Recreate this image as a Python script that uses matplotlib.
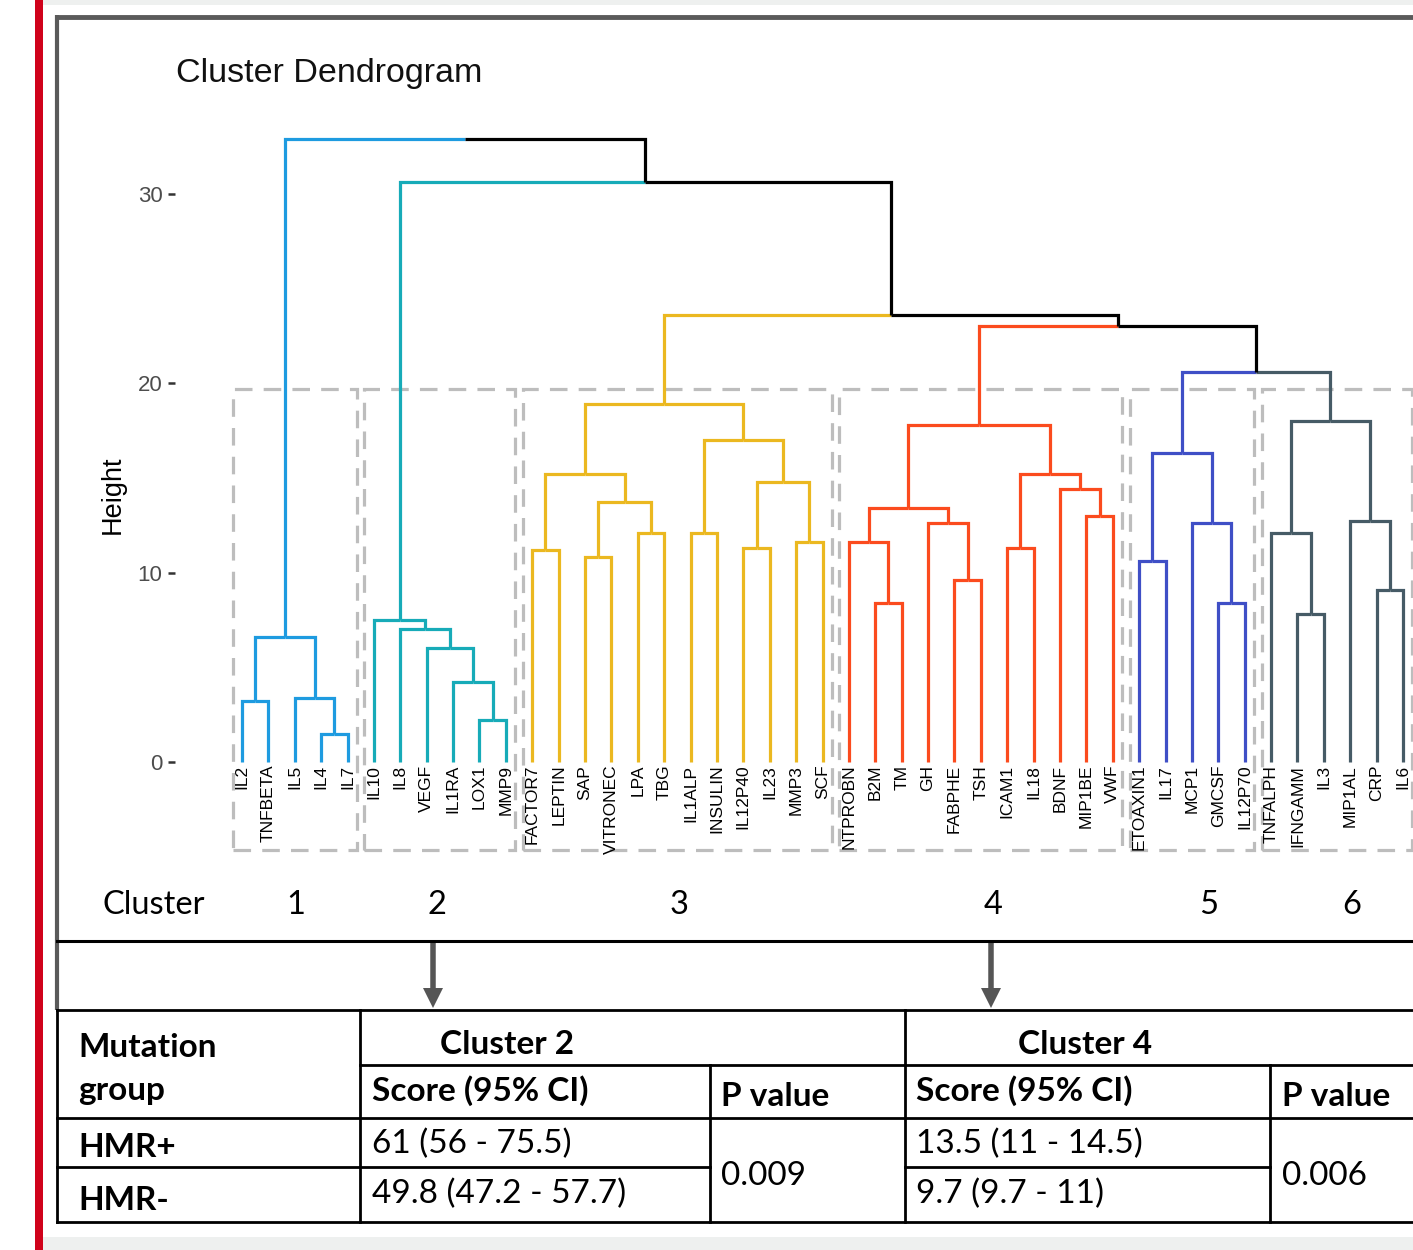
import matplotlib
matplotlib.use("Agg")
import matplotlib.pyplot as plt
from matplotlib.patches import Rectangle, FancyArrow

# ------------------------------------------------------------------ data
# Each cluster subtree: (merge height, left, right); leaves are strings.
cluster1 = (6.6, (3.2, "IL2", "TNFBETA"), (3.4, "IL5", (1.5, "IL4", "IL7")))
cluster2 = (7.5, "IL10", (7.0, "IL8", (6.0, "VEGF", (4.2, "IL1RA", (2.2, "LOX1", "MMP9")))))
cluster3 = (18.9,
            (15.2, (11.2, "FACTOR7", "LEPTIN"),
                   (13.7, (10.8, "SAP", "VITRONEC"), (12.1, "LPA", "TBG"))),
            (17.0, (12.1, "IL1ALP", "INSULIN"),
                   (14.8, (11.3, "IL12P40", "IL23"), (11.6, "MMP3", "SCF"))))
cluster4 = (17.8,
            (13.4, (11.6, "NTPROBN", (8.4, "B2M", "TM")),
                   (12.6, "GH", (9.6, "FABPHE", "TSH"))),
            (15.2, (11.3, "ICAM1", "IL18"),
                   (14.4, "BDNF", (13.0, "MIP1BE", "VWF"))))
cluster5 = (16.3, (10.6, "ETOAXIN1", "IL17"), (12.6, "MCP1", (8.4, "GMCSF", "IL12P70")))
cluster6 = (18.0, (12.1, "TNFALPH", (7.8, "IFNGAMM", "IL3")),
            (12.7, "MIP1AL", (9.1, "CRP", "IL6")))

cluster_trees = [cluster1, cluster2, cluster3, cluster4, cluster5, cluster6]
cluster_names = ["1", "2", "3", "4", "5", "6"]
cluster_colors = ["#1E9BE0", "#17ABB8", "#EBB820", "#FB4B1E", "#3F4FC6", "#465B66"]
# height at which cluster k joins the block formed by clusters k+1..6
top_merge_heights = [32.9, 30.6, 23.6, 23.0, 20.6]
rect_top_height = 19.7
y_ticks = [0, 10, 20, 30]

mutation_groups = ["HMR+", "HMR-"]
table_groups = ["Cluster 2", "Cluster 4"]
col_headers = ["Score (95% CI)", "P value"]
cluster2_scores = ["61 (56 - 75.5)", "49.8 (47.2 - 57.7)"]
cluster2_p = "0.009"
cluster4_scores = ["13.5 (11 - 14.5)", "9.7 (9.7 - 11)"]
cluster4_p = "0.006"

# ------------------------------------------------------------------ figure
W, H = 1413, 1250
fig = plt.figure(figsize=(W / 100, H / 100), dpi=100)
fig.patch.set_facecolor("white")

bg = fig.add_axes([0, 0, 1, 1], zorder=0)
bg.set_xlim(0, W)
bg.set_ylim(H, 0)
bg.axis("off")

ARIAL = ["Liberation Sans", "DejaVu Sans"]
CAL = ["Lato", "DejaVu Sans"]

# decorations
bg.add_patch(Rectangle((35, 0), 8, H, color="#D0021B", lw=0))
bg.add_patch(Rectangle((43, 0), W - 43, 5, color="#EEF0EF", lw=0))
bg.add_patch(Rectangle((43, 1237), W - 43, 13, color="#EEF0EF", lw=0))
bg.plot([55, W], [17, 17], color="#5A5A5A", lw=3.5, solid_capstyle="butt")
bg.plot([57, 57], [15, 1010], color="#5A5A5A", lw=3.0, solid_capstyle="butt")
bg.plot([57, W], [941, 941], color="black", lw=2.2)

# dendrogram axes
xmin, xmax = -2.54, 46.54
ymin, ymax = -5.70, 33.88
ax = fig.add_axes([175 / W, 1 - 870 / H, 1295 / W, 750 / H], zorder=2)
ax.patch.set_alpha(0)
ax.set_xlim(xmin, xmax)
ax.set_ylim(ymin, ymax)
for s in ax.spines.values():
    s.set_visible(False)
ax.set_xticks([])
ax.set_yticks(y_ticks)
ax.set_yticklabels([str(t) for t in y_ticks], family=ARIAL)
ax.tick_params(axis="y", length=5, width=1.8, color="#333333",
               labelsize=16, labelcolor="#4D4D4D", pad=4)
bg.text(113, 495, "Height", family=ARIAL, fontsize=19.5, color="black",
        rotation=90, ha="center", va="center")

LW = 2.3
counter = [0]


def draw_branch(xp, hp, xc, hc, color):
    ax.plot([xp, xc, xc], [hp, hp, hc], color=color, lw=LW,
            solid_joinstyle="miter", solid_capstyle="butt", zorder=3)


def layout(node, color, leaves):
    if isinstance(node, str):
        x = counter[0]
        counter[0] += 1
        leaves.append(x)
        ax.text(x, -0.15, node, rotation=90, ha="center", va="top",
                family=ARIAL, fontsize=12.5, color="black")
        return x, 0.0
    h, left, right = node
    xl, hl = layout(left, color, leaves)
    xr, hr = layout(right, color, leaves)
    x = (xl + xr) / 2
    draw_branch(x, h, xl, hl, color)
    draw_branch(x, h, xr, hr, color)
    return x, h


roots = []
for k, (tree, col) in enumerate(zip(cluster_trees, cluster_colors)):
    leaves = []
    xr, hr = layout(tree, col, leaves)
    roots.append((xr, hr))
    first, last = min(leaves), max(leaves)
    ax.add_patch(Rectangle((first - 0.36, -4.65), last - first + 0.72,
                           rect_top_height + 4.65, fill=False,
                           edgecolor="#BDBDBD", lw=2.3,
                           linestyle=(0, (5.5, 3.5)), zorder=1))

cur_x, cur_h = roots[-1]
cur_col = cluster_colors[-1]
for k in range(len(top_merge_heights) - 1, -1, -1):
    h = top_merge_heights[k]
    xa, ha = roots[k]
    x = (xa + cur_x) / 2
    draw_branch(x, h, xa, ha, cluster_colors[k])
    draw_branch(x, h, cur_x, cur_h, cur_col)
    cur_x, cur_h, cur_col = x, h, "black"

# title
bg.text(176, 82, "Cluster Dendrogram", family=ARIAL, fontsize=24.5,
        ha="left", va="baseline", color="#111111")

# cluster row
cluster_label_x = [2.05, 7.4, 16.55, 28.45, 36.65, 42.05]
bg.text(103, 914, "Cluster", family=CAL, fontsize=23.5, ha="left", va="baseline")
for name, xd in zip(cluster_names, cluster_label_x):
    px = 175 + (xd - xmin) / (xmax - xmin) * 1295
    bg.text(px, 914, name, family=CAL, fontsize=23.5, ha="center", va="baseline")

# arrows
for ax_px in [433, 991]:
    bg.add_patch(FancyArrow(ax_px, 942, 0, 66, width=5.5, head_width=20,
                            head_length=20, length_includes_head=True,
                            color="#555555", lw=0))

# table grid
TL = dict(color="black", lw=2.0, solid_capstyle="projecting")
for y, x0, x1 in [(1010, 57, W), (1065, 360, W), (1118, 57, W),
                  (1167, 57, 710), (1167, 905, 1270), (1222, 57, W)]:
    bg.plot([x0, x1], [y, y], **TL)
for x, y0, y1 in [(57, 1010, 1222), (360, 1010, 1222), (710, 1065, 1222),
                  (905, 1010, 1222), (1270, 1065, 1222)]:
    bg.plot([x, x], [y0, y1], **TL)

FS = 24
bold = dict(family=CAL, fontsize=FS, fontweight="bold", va="baseline", ha="left")
reg = dict(family=CAL, fontsize=FS, va="baseline", ha="left")
bg.text(78, 1057, "Mutation", **bold)
bg.text(78, 1100, "group", **bold)
bg.text(507, 1054, table_groups[0], **{**bold, "ha": "center"})
bg.text(1085, 1054, table_groups[1], **{**bold, "ha": "center"})
bg.text(372, 1101, col_headers[0], **bold)
bg.text(721, 1106, col_headers[1], **bold)
bg.text(916, 1101, col_headers[0], **bold)
bg.text(1282, 1106, col_headers[1], **bold)
bg.text(78, 1157, mutation_groups[0], **bold)
bg.text(78, 1210, mutation_groups[1], **bold)
bg.text(372, 1153, cluster2_scores[0], **reg)
bg.text(372, 1203, cluster2_scores[1], **reg)
bg.text(721, 1185, cluster2_p, **reg)
bg.text(916, 1153, cluster4_scores[0], **reg)
bg.text(916, 1203, cluster4_scores[1], **reg)
bg.text(1282, 1185, cluster4_p, **reg)

fig.savefig("out.png", dpi=100, facecolor="white")
